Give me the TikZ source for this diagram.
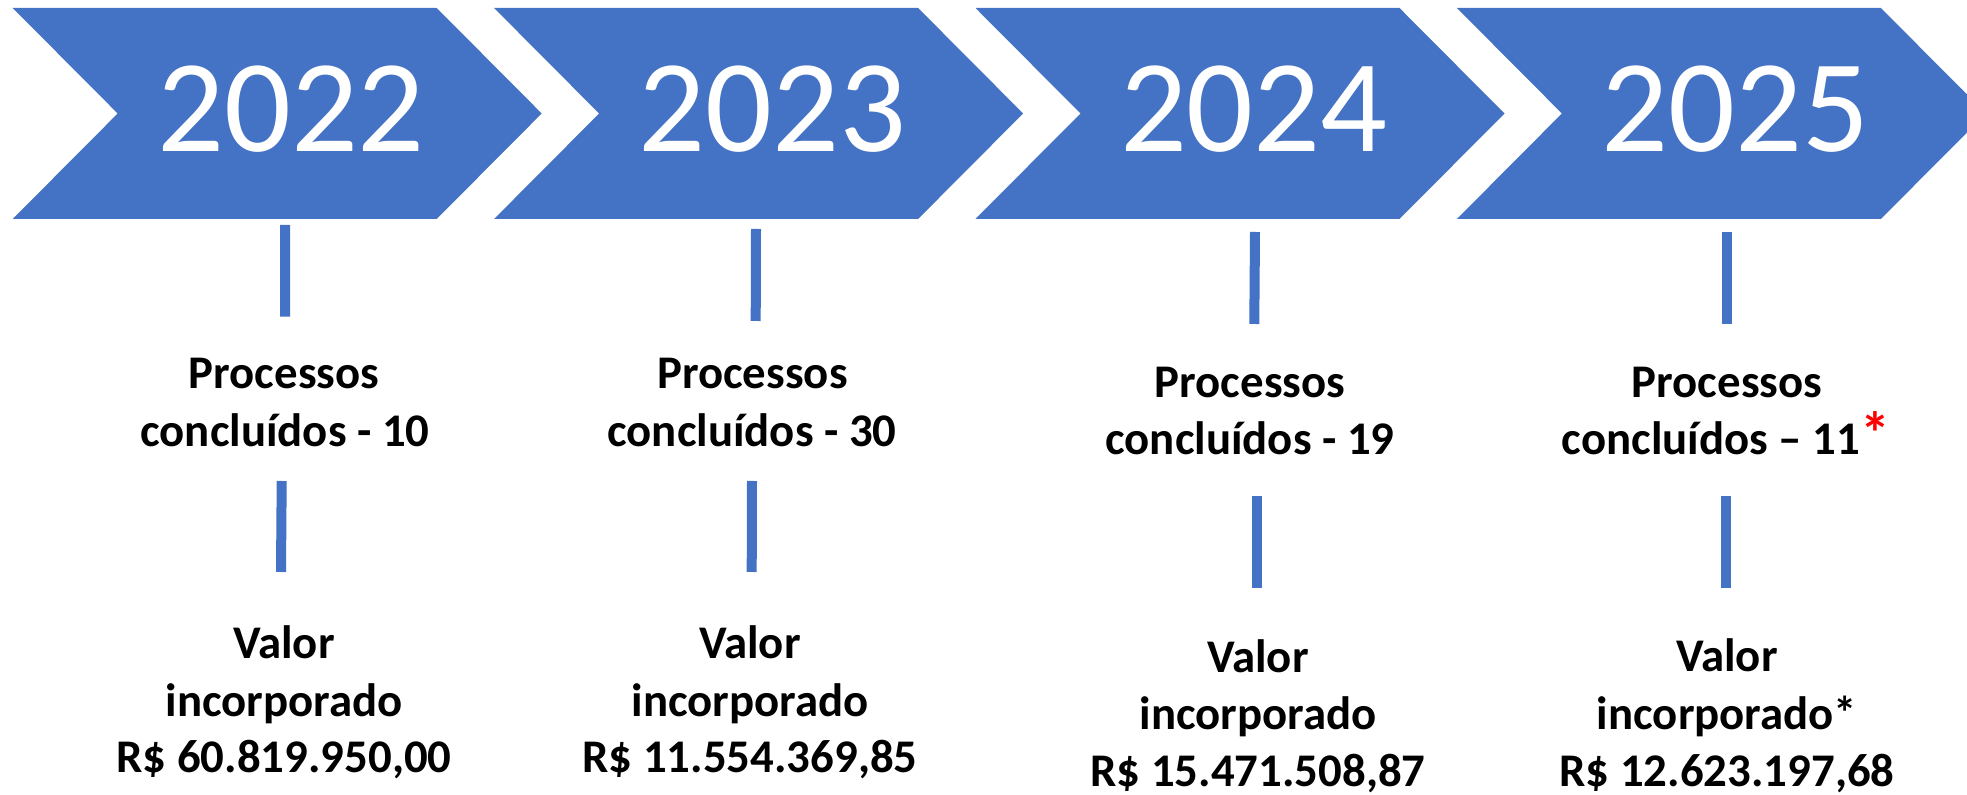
\documentclass[tikz,border=0pt]{standalone}
\usepackage{fontspec}
\setmainfont{Carlito}
\definecolor{chev}{HTML}{4472C4}
\begin{document}
\begin{tikzpicture}[x=0.5pt,y=-0.5pt,
  chevron/.style={fill=chev, draw=none},
  year/.style={text=white, font=\fontsize{66}{79}\selectfont, inner sep=0pt, anchor=base},
  lbl/.style={text=black, font=\fontsize{23.4}{28.75}\selectfont\bfseries, inner sep=0pt, anchor=base},
  tick/.style={draw=chev, line width=5pt, line cap=butt}]
\useasboundingbox (0,0) rectangle (1967,795);
\clip (0,0) rectangle (1967,795);
% chevrons
\foreach \L in {12.7,494.1,975.5,1456.9}{
  \path[chevron] (\L,8) -- ++(424,0) -- ++(105,105.5) -- ++(-105,105.5) -- ++(-424,0) -- ++(105,-105.5) -- cycle;
}
% years
\node[year] (y2022) at (291,151.7) {2022};
\node[year] (y2023) at (772.4,151.7) {2023};
\node[year] (y2024) at (1253.8,151.7) {2024};
\node[year] (y2025) at (1735.2,151.7) {2025};
% column 1
\coordinate (t1a) at (285.2,225); \coordinate (t1b) at (285,316.7);
\node[lbl] (p1a) at (284,389) {Processos};
\node[lbl] (p1b) at (285,446.7) {concluídos - 10};
\coordinate (s1a) at (281.7,481); \coordinate (s1b) at (281,572);
\node[lbl] (v1a) at (284,659) {Valor};
\node[lbl] (v1b) at (284,716.7) {incorporado};
\node[lbl] (v1c) at (284,773) {R\$ 60.819.950,00};
% column 2
\coordinate (t2a) at (756,229); \coordinate (t2b) at (755.7,321);
\node[lbl] (p2a) at (752.5,389) {Processos};
\node[lbl] (p2b) at (752,447) {concluídos - 30};
\coordinate (s2a) at (752,481); \coordinate (s2b) at (751.7,572);
\node[lbl] (v2a) at (750,659) {Valor};
\node[lbl] (v2b) at (750,716.7) {incorporado};
\node[lbl] (v2c) at (750,773) {R\$ 11.554.369,85};
% column 3
\coordinate (t3a) at (1255,232); \coordinate (t3b) at (1254.3,324);
\node[lbl] (p3a) at (1250,398) {Processos};
\node[lbl] (p3b) at (1250,455) {concluídos - 19};
\coordinate (s3a) at (1257,496); \coordinate (s3b) at (1257,588);
\node[lbl] (v3a) at (1258,672.7) {Valor};
\node[lbl] (v3b) at (1258,730) {incorporado};
\node[lbl] (v3c) at (1258,786.7) {R\$ 15.471.508,87};
% column 4
\coordinate (t4a) at (1727,232); \coordinate (t4b) at (1727,324);
\node[lbl] (p4a) at (1727,398) {Processos};
\node[lbl] (p4b) at (1726,455) {concluídos – 11\textcolor{red}{\fontsize{30}{30}\selectfont *}};
\coordinate (s4a) at (1726,496); \coordinate (s4b) at (1726,588);
\node[lbl] (v4a) at (1727,672) {Valor};
\node[lbl] (v4b) at (1727,730) {incorporado*};
\node[lbl] (v4c) at (1727,787) {R\$ 12.623.197,68};
% connectors
\draw[tick] (t1a) -- (t1b);
\draw[tick] (s1a) -- (s1b);
\draw[tick] (t2a) -- (t2b);
\draw[tick] (s2a) -- (s2b);
\draw[tick] (t3a) -- (t3b);
\draw[tick] (s3a) -- (s3b);
\draw[tick] (t4a) -- (t4b);
\draw[tick] (s4a) -- (s4b);
\end{tikzpicture}
\end{document}
